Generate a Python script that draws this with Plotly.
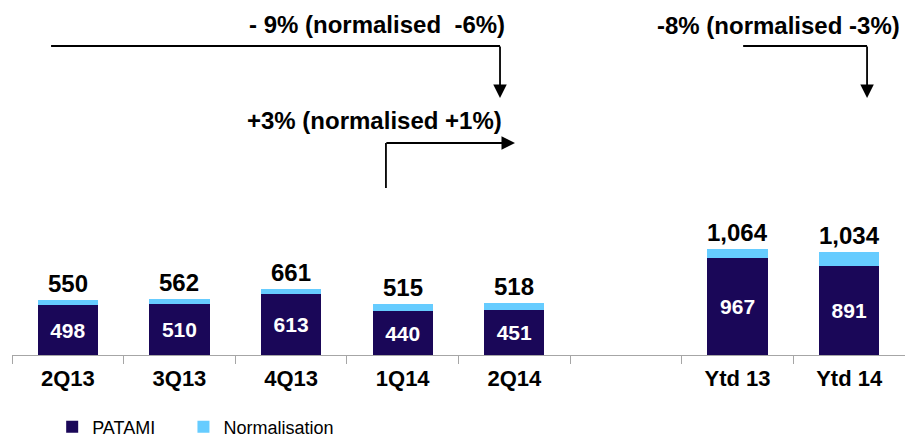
import plotly.graph_objects as go

# Quarterly and year-to-date results (one blank slot separates the two groups)
categories = ["2Q13", "3Q13", "4Q13", "1Q14", "2Q14", " ", "Ytd 13", "Ytd 14"]
patami = [498, 510, 613, 440, 451, None, 967, 891]
totals = [550, 562, 661, 515, 518, None, 1064, 1034]
normalisation = [t - p if t is not None else None for t, p in zip(totals, patami)]

navy = "#1A0758"
light_blue = "#66CCFF"
font_family = "Liberation Sans, Arial, sans-serif"

fig = go.Figure()
fig.add_trace(go.Bar(
    x=categories, y=patami, name="PATAMI", legend="legend",
    marker=dict(color=navy, line=dict(width=0)),
    text=[f"{v:,}" if v is not None else "" for v in patami],
    textposition="inside", insidetextanchor="middle",
    textfont=dict(family=font_family, size=21, color="white", weight="bold"),
    constraintext="none",
))
fig.add_trace(go.Bar(
    x=categories, y=normalisation, name="Normalisation", legend="legend2",
    marker=dict(color=light_blue, line=dict(width=0)),
    hoverinfo="skip",
))

# Total labels above each stack
for c, t in zip(categories, totals):
    if t is None:
        continue
    fig.add_annotation(
        x=c, y=t, text=f"<b>{t:,}</b>", showarrow=False,
        yanchor="bottom", yshift=1,
        font=dict(family=font_family, size=24, color="black"),
    )

# Growth callouts with elbow arrows
line_style = dict(color="black", width=1.8)
elbow_lines = [
    (-0.15, 3090, 3.872, 3090),
    (2.85, 1670, 2.85, 2120),
    (6.05, 3090, 7.16, 3090),
]
for x0, y0, x1, y1 in elbow_lines:
    fig.add_shape(type="line", xref="x", yref="y", x0=x0, y0=y0, x1=x1, y1=y1,
                  line=line_style)

arrow_heads = [
    (3.872, 3100, 3.872, 2570),
    (2.84, 2120, 4.006, 2120),
    (7.16, 3100, 7.16, 2570),
]
for ax, ay, x, y in arrow_heads:
    fig.add_annotation(
        x=x, y=y, ax=ax, ay=ay, xref="x", yref="y", axref="x", ayref="y",
        text="", showarrow=True, arrowhead=2, arrowsize=1.5, arrowwidth=1.8,
        arrowcolor="black", standoff=0, startstandoff=0,
    )

callouts = [
    ("- 9% (normalised \u00a0-6%)", 3.93, 3310),
    ("+3% (normalised +1%)", 3.905, 2350),
    ("-8% (normalised -3%)", 7.475, 3300),
]
for txt, x, y in callouts:
    fig.add_annotation(
        x=x, y=y, xref="x", yref="y", text=f"<b>{txt}</b>", showarrow=False,
        xanchor="right", yanchor="middle",
        font=dict(family=font_family, size=24, color="black"),
    )

legend_style = dict(
    orientation="h", xanchor="left", y=-0.203, yanchor="middle",
    font=dict(family=font_family, size=18, color="black"),
    bgcolor="rgba(0,0,0,0)",
)

fig.update_layout(
    width=905, height=438,
    margin=dict(l=12, r=0, t=0, b=83, autoexpand=False),
    barmode="stack", bargap=0.46,
    plot_bgcolor="white", paper_bgcolor="white",
    font=dict(family=font_family, color="black"),
    showlegend=True,
    legend=dict(x=0.045, **legend_style),
    legend2=dict(x=0.192, **legend_style),
    xaxis=dict(
        type="category", categoryorder="array", categoryarray=categories,
        range=[-0.5, 7.5],
        showline=True, linecolor="#A6A6A6", linewidth=1,
        ticks="outside", tickson="boundaries", ticklen=8, tickcolor="#A6A6A6",
        tickwidth=1, ticklabelstandoff=4,
        tickfont=dict(family=font_family, size=22, color="black", weight="bold"),
        showgrid=False, zeroline=False, fixedrange=True,
    ),
    yaxis=dict(
        range=[0, 3550], visible=False, showgrid=False, zeroline=False,
        fixedrange=True,
    ),
)

fig.write_html("out.html")
